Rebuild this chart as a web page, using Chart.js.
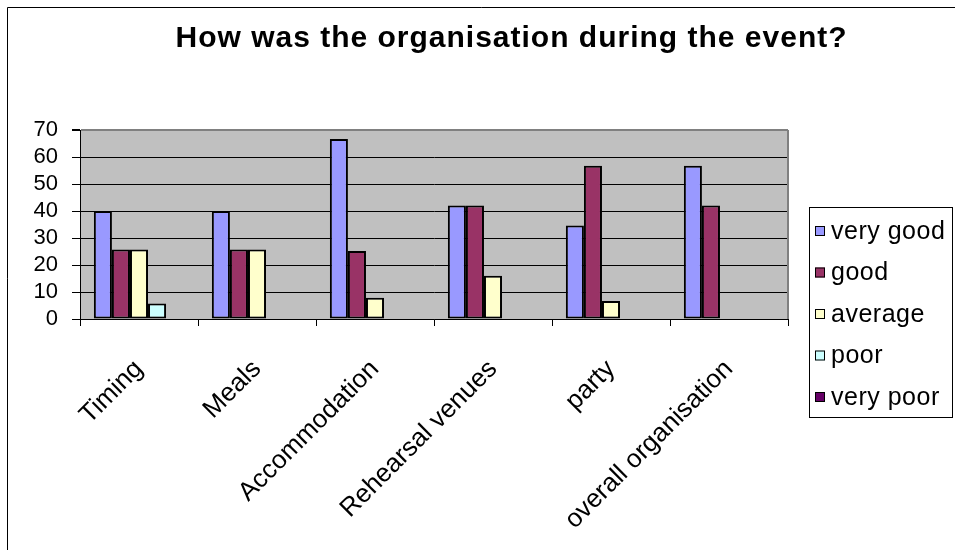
<!DOCTYPE html>
<html lang="en">
  <head>
    <meta charset="UTF-8" />
    <title>How was the organisation during the event?</title>
    <style>
      * {
        margin: 0;
        padding: 0;
        box-sizing: border-box;
      }
      body {
        background: #fff;
        font-family: "Liberation Sans", Arial, sans-serif;
      }
      .wrap {
        position: relative;
        width: 955px;
        height: 550px;
        overflow: hidden;
      }
      .chartTitle {
        position: absolute;
        left: 0;
        top: 22px;
        width: 1023px;
        text-align: center;
        font-weight: bold;
        font-size: 30px;
        line-height: 30px;
        letter-spacing: 1px;
        color: #000;
      }
    </style>
  </head>
  <body>
    <div class="wrap">
      <canvas id="myChart" width="955" height="550"></canvas>
      <div class="chartTitle">How was the organisation during the event?</div>
    </div>

    <script src="https://cdn.jsdelivr.net/npm/chart.js"></script>

    <script>
      const categories = [
        "Timing",
        "Meals",
        "Accommodation",
        "Rehearsal venues",
        "party",
        "overall organisation",
      ];
      const seriesNames = ["very good", "good", "average", "poor", "very poor"];
      const veryGood = [40, 40, 66.7, 42, 34.6, 56.8];
      const good = [25.7, 25.7, 25.2, 42, 56.8, 42];
      const average = [25.7, 25.7, 7.9, 16, 6.7, 0];
      const poor = [5.7, 0, 0, 0, 0, 0];
      const veryPoor = [0, 0, 0, 0, 0, 0];
      const yMax = 70;
      const yStep = 10;

      const colors = ["#9999FF", "#993366", "#FFFFCC", "#CCFFFF", "#660066"];
      const values = [veryGood, good, average, poor, veryPoor];

      const font = "'Liberation Sans', Arial, sans-serif";

      // white page, plot background and the frame lines
      const backdrop = {
        id: "backdrop",
        beforeDraw(chart) {
          const { ctx, chartArea: a } = chart;
          ctx.save();
          ctx.fillStyle = "#fff";
          ctx.fillRect(0, 0, chart.width, chart.height);
          ctx.fillStyle = "#C0C0C0";
          ctx.fillRect(a.left, a.top, a.right - a.left, a.bottom - a.top);
          ctx.strokeStyle = "#000";
          ctx.lineWidth = 1;
          ctx.beginPath();
          ctx.moveTo(7.5, chart.height);
          ctx.lineTo(7.5, 7.5);
          ctx.lineTo(chart.width, 7.5);
          ctx.stroke();
          ctx.restore();
        },
        beforeDatasetsDraw(chart) {
          const { ctx, chartArea: a } = chart;
          ctx.save();
          ctx.strokeStyle = "#808080";
          ctx.lineWidth = 2;
          ctx.beginPath();
          ctx.moveTo(a.right, a.bottom);
          ctx.lineTo(a.right, a.top);
          ctx.stroke();
          ctx.restore();
        },
      };

      // boxed legend on the right
      const boxLegend = {
        id: "boxLegend",
        afterDraw(chart) {
          const { ctx } = chart;
          ctx.save();
          ctx.strokeStyle = "#000";
          ctx.lineWidth = 1;
          ctx.strokeRect(809.5, 207.5, 143, 210);
          ctx.font = "25px " + font;
          ctx.letterSpacing = "0.5px";
          ctx.textBaseline = "middle";
          ctx.textAlign = "left";
          chart.data.datasets.forEach((ds, i) => {
            const cy = 231 + i * 41.5;
            ctx.fillStyle = ds.backgroundColor;
            ctx.fillRect(815, cy - 5, 10, 10);
            ctx.strokeRect(815.5, cy - 4.5, 9, 9);
            ctx.fillStyle = "#000";
            ctx.fillText(ds.label, 831, cy + 1);
          });
          ctx.restore();
        },
      };

      const data = {
        labels: categories,
        datasets: seriesNames.map((name, i) => ({
          label: name,
          data: values[i],
          backgroundColor: colors[i],
          borderColor: "#000",
          borderWidth: (c) => (c.raw ? 2 : 0),
          borderSkipped: false,
          barPercentage: 1,
          categoryPercentage: 0.765,
        })),
      };

      const config = {
        type: "bar",
        data: data,
        options: {
          responsive: false,
          animation: false,
          layout: {
            padding: { left: 0, top: 130, right: 167, bottom: 0 },
          },
          plugins: {
            legend: { display: false },
            title: { display: false },
            tooltip: { enabled: false },
          },
          scales: {
            x: {
              afterFit: (s) => {
                s.height = 231;
              },
              ticks: {
                color: "#000",
                font: { family: font, size: 26 },
                minRotation: 45,
                maxRotation: 45,
                autoSkip: false,
                padding: 28,
              },
              grid: {
                display: true,
                drawOnChartArea: false,
                color: "#000",
                tickLength: 7,
                offset: true,
              },
              border: { color: "#000", width: 1 },
            },
            y: {
              min: 0,
              max: yMax,
              afterFit: (s) => {
                s.width = 80;
              },
              ticks: {
                stepSize: yStep,
                autoSkip: false,
                color: "#000",
                font: { family: font, size: 22 },
                padding: 14,
              },
              grid: {
                color: (c) => (c.tick && c.tick.value === yMax ? "#808080" : "#000"),
                lineWidth: (c) => (c.tick && c.tick.value === yMax ? 2 : 1),
                tickColor: "#000",
                tickLength: 8,
              },
              border: { color: "#000", width: 1 },
            },
          },
        },
        plugins: [backdrop, boxLegend],
      };

      const myChart = new Chart(document.getElementById("myChart"), config);
    </script>
  </body>
</html>
